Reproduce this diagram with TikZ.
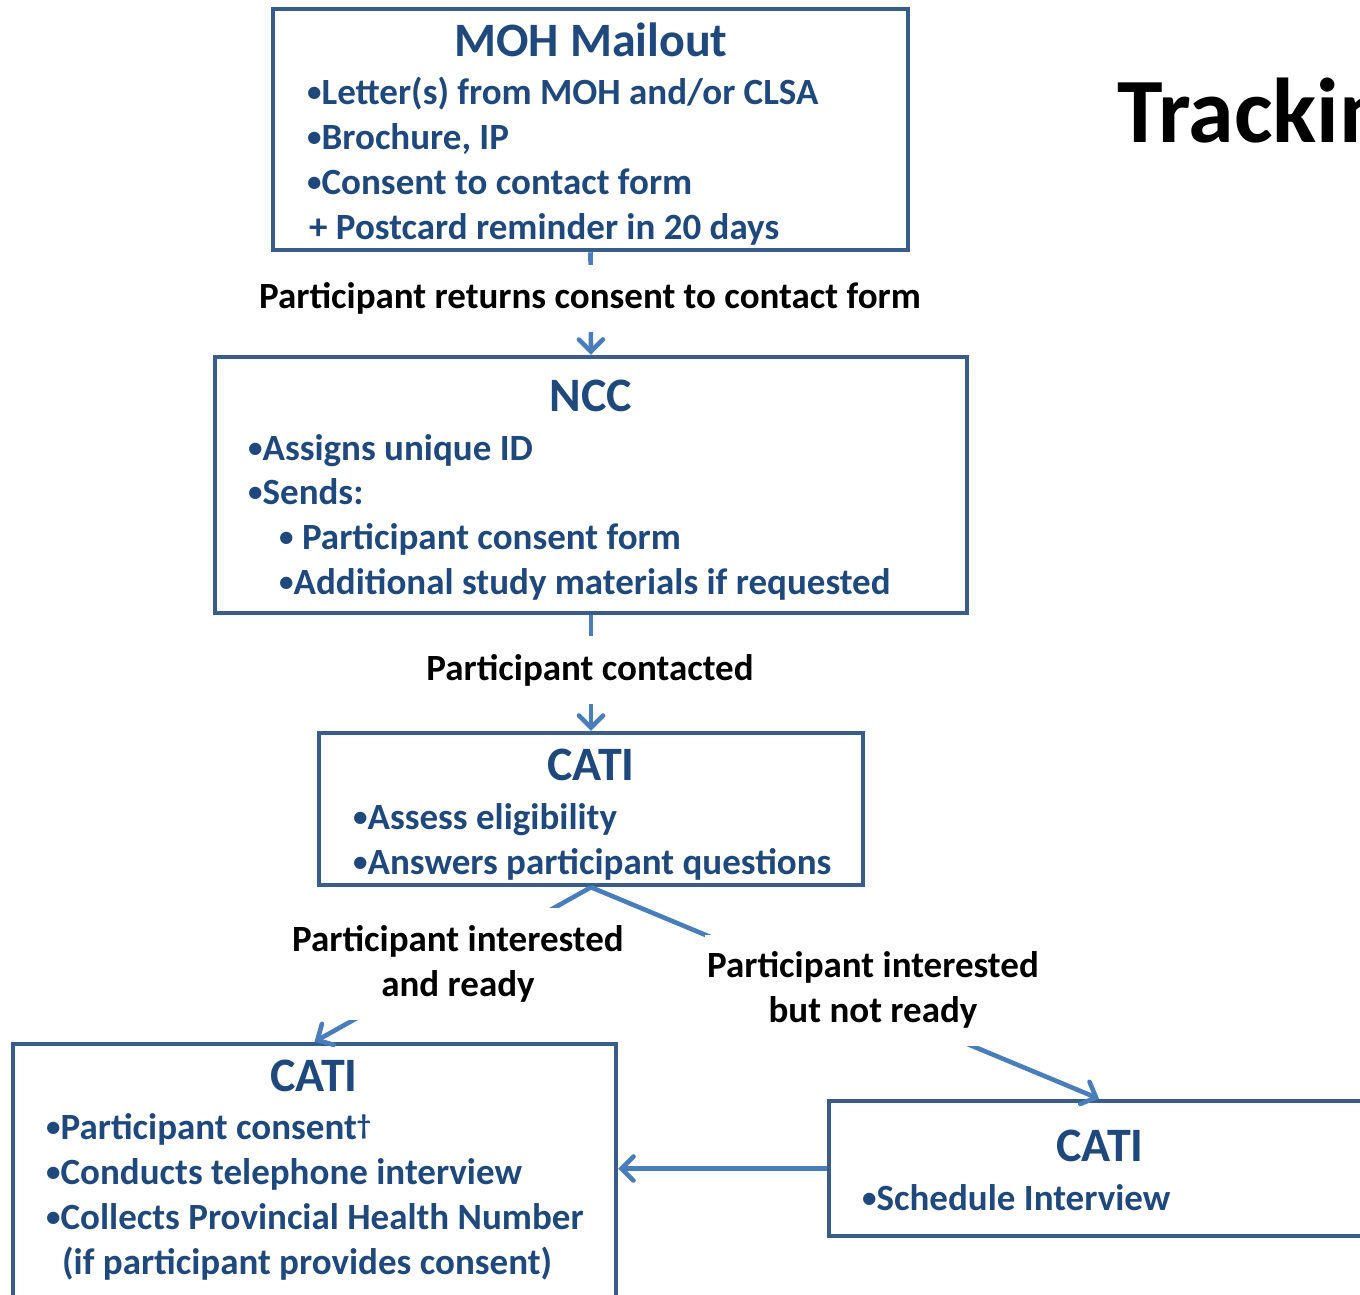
\documentclass[tikz,border=0pt]{standalone}
\usepackage{fontspec}
\setmainfont{Carlito}
\usetikzlibrary{arrows.meta}
\definecolor{boxc}{HTML}{385D8A}
\definecolor{arrc}{HTML}{4A7EBB}
\definecolor{txtc}{HTML}{1F497D}
\tikzset{
  boxnode/.style={draw=boxc, line width=4.5pt, inner sep=0pt},
  conn/.style={draw=arrc, line width=4.6pt, -{Straight Barb[length=12pt,width=24pt,line cap=round]}},
  ttl/.style={text=txtc, font=\bfseries\fontsize{48}{55}\selectfont, anchor=base, inner sep=0pt},
  itm/.style={text=txtc, font=\bfseries\fontsize{37}{45}\selectfont, anchor=base west, inner sep=0pt},
  lbl/.style={fill=white, text=black, font=\bfseries\fontsize{37}{45}\selectfont, align=center, inner xsep=2pt}
}
\newcommand{\mydagger}{\raisebox{5pt}{\fontsize{28}{30}\selectfont †}}
\newcommand{\bul}{\raisebox{2.5pt}{\fontsize{29}{30}\selectfont •}}
\begin{document}
\begin{tikzpicture}[x=1pt,y=-1pt]
\useasboundingbox (0,0) rectangle (1360,1294);
\clip (0,0) rectangle (1360,1294);
\fill[white] (0,0) rectangle (1360,1294);

% boxes
\node[boxnode, minimum width=635pt, minimum height=241pt] (moh) at (590.5,129.5) {};
\node[boxnode, minimum width=752pt, minimum height=256pt] (ncc) at (591,485) {};
\node[boxnode, minimum width=544pt, minimum height=152pt] (c1) at (591,809) {};
\node[boxnode, minimum width=603pt, minimum height=266pt] (c2) at (314.5,1177) {};
\node[boxnode, minimum width=540pt, minimum height=135pt] (c3) at (1099,1168.5) {};

% title
\node[anchor=base west, inner sep=0pt, font=\bfseries\fontsize{92}{100}\selectfont] (title) at (1117,142) {Tracking};

% MOH text
\node[ttl] (mohT) at (591,56) {MOH Mailout};
\node[itm] (moh1) at (307,104) {\bul Letter(s) from MOH and/or CLSA};
\node[itm] (moh2) at (307,149) {\bul Brochure, IP};
\node[itm] (moh3) at (307,194) {\bul Consent to contact form};
\node[itm] (moh4) at (309,239) {+ Postcard reminder in 20 days};

% NCC text
\node[ttl] (nccT) at (591,411) {NCC};
\node[itm] (ncc1) at (248,460) {\bul Assigns unique ID};
\node[itm] (ncc2) at (248,504) {\bul Sends:};
\node[itm] (ncc3) at (279,549) {\bul{} Participant consent form};
\node[itm] (ncc4) at (279,594) {\bul Additional study materials if requested};

% CATI 1
\node[ttl] (c1T) at (591,780) {CATI};
\node[itm] (c11) at (353,829) {\bul Assess eligibility};
\node[itm] (c12) at (353,874) {\bul Answers participant questions};

% CATI 2
\node[ttl] (c2T) at (314,1091) {CATI};
\node[itm] (c21) at (46,1139) {\bul Participant consent\mydagger};
\node[itm] (c22) at (46,1184) {\bul Conducts telephone interview};
\node[itm] (c23) at (46,1229) {\bul Collects Provincial Health Number};
\node[itm] (c24) at (62,1274) {(if participant provides consent)};

% CATI 3
\node[ttl] (c3T) at (1100,1161) {CATI};
\node[itm] (c31) at (862,1210) {\bul Schedule Interview};

% connectors
\draw[conn] (moh.south) -- (ncc.north);
\draw[conn] (ncc.south) -- (c1.north);
\draw[conn] (c1.south) -- (c2.north);
\draw[conn] (c1.south) -- (c3.north);
\draw[conn] (c3.west) -- (c2.east |- c3.west);

% connector labels
\node[lbl, minimum height=67pt] (l1) at (590,298) {Participant returns consent to contact form};
\node[lbl, minimum height=68pt] (l2) at (590,670) {Participant contacted};
\node[lbl, minimum height=112pt] (l3) at (458,964) {Participant interested\\and ready};
\node[lbl, minimum height=111pt] (l4) at (873,990) {Participant interested\\but not ready};
\end{tikzpicture}
\end{document}
